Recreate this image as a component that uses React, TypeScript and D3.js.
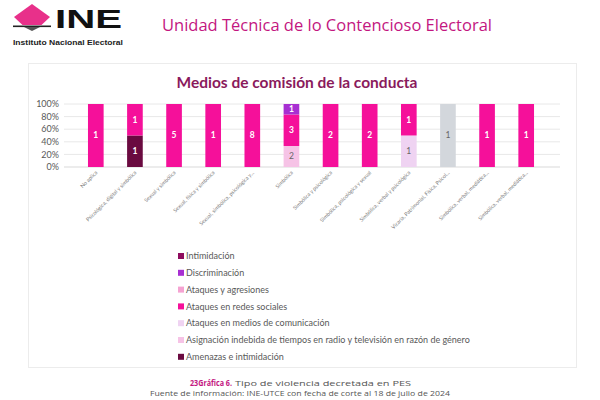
import React from "react";
import * as d3 from "d3";

const categories = [
  "No aplica",
  "Psicológica, digital y simbólica",
  "Sexual y simbólica",
  "Sexual, física y simbólica",
  "Sexual, simbólica, psicológica y...",
  "Simbólica",
  "Simbólica y psicológica",
  "Simbólica, psicológica y sexual",
  "Simbólica, verbal y psicológica",
  "Vicaria, Patrimonial, Física, Psicol...",
  "Simbólica, verbal, mediática...",
  "Simbólica, verbal, mediática...",
];

// series, bottom to top of the stack
const seriesNames = [
  "Amenazas e intimidación",
  "Asignación indebida de tiempos en radio y televisión en razón de género",
  "Ataques en medios de comunicación",
  "Ataques en redes sociales",
  "Ataques y agresiones",
  "Discriminación",
  "Intimidación",
  "Otro",
];
const seriesColors = [
  "#6a0a40",
  "#f6c3e6",
  "#efd3f2",
  "#f5109a",
  "#f5a3d2",
  "#a72fd2",
  "#8e0c5e",
  "#d3d7dc",
];
const seriesLabelDark = [false, true, true, false, true, false, false, true];
const inLegend = [true, true, true, true, true, true, true, false];

const amenazas = [0, 1, 0, 0, 0, 0, 0, 0, 0, 0, 0, 0];
const asignacion = [0, 0, 0, 0, 0, 2, 0, 0, 0, 0, 0, 0];
const medios = [0, 0, 0, 0, 0, 0, 0, 0, 1, 0, 0, 0];
const redes = [1, 1, 5, 1, 8, 3, 2, 2, 1, 0, 1, 1];
const agresiones = [0, 0, 0, 0, 0, 0, 0, 0, 0, 0, 0, 0];
const discriminacion = [0, 0, 0, 0, 0, 1, 0, 0, 0, 0, 0, 0];
const intimidacion = [0, 0, 0, 0, 0, 0, 0, 0, 0, 0, 0, 0];
const otro = [0, 0, 0, 0, 0, 0, 0, 0, 0, 1, 0, 0];
const seriesValues = [amenazas, asignacion, medios, redes, agresiones, discriminacion, intimidacion, otro];

const yTicks = [0, 0.2, 0.4, 0.6, 0.8, 1];

const FONT = "Lato, 'Open Sans', sans-serif";

export default function App() {
  const W = 600, H = 400;
  const keys = seriesNames.map((_, i) => "s" + i);
  const table = categories.map((c, ci) => {
    const row: any = { cat: ci };
    keys.forEach((k, si) => (row[k] = seriesValues[si][ci]));
    return row;
  });
  const stacked = d3.stack<any>().keys(keys).offset(d3.stackOffsetExpand)(table);

  const x = d3.scaleBand<number>().domain(categories.map((_, i) => i)).range([64.5, 557.5]).padding(0.6);
  const y = d3.scaleLinear().domain([0, 1]).range([167, 104]);
  const fmt = d3.format(".0%");

  const legendOrder = seriesNames.map((_, i) => i).filter((i) => inLegend[i]).reverse();

  return (
    <svg width={W} height={H} style={{ position: "absolute", left: 0, top: 0, background: "#fff" }}>
      {/* header logo */}
      <polygon points="32,4 50,17 41.5,25 22.5,25 14,17" fill="#e8308a" />
      <rect x={13} y={25.5} width={38} height={1.6} fill="#222" />
      <polygon points="24,27.1 40,27.1 32,31" fill="#555" />
      <text x={55} y={28} fontFamily="'Liberation Sans', Arial, sans-serif" fontWeight={900} fontSize={25}
        textLength={67} lengthAdjust="spacingAndGlyphs" fill="#111">INE</text>
      <text x={13} y={44.5} fontFamily="'Liberation Sans', Arial, sans-serif" fontWeight={700} fontSize={8}
        textLength={110} lengthAdjust="spacingAndGlyphs" fill="#222">Instituto Nacional Electoral</text>
      <text x={162} y={31} fontFamily="'Open Sans', sans-serif" fontSize={17} fill="#c3167f"
        textLength={330} lengthAdjust="spacingAndGlyphs">Unidad Técnica de lo Contencioso Electoral</text>

      {/* chart panel */}
      <rect x={28.5} y={63.5} width={548} height={304} fill="#fff" stroke="#ececec" strokeWidth={1} />
      <text x={297} y={88} textAnchor="middle" fontFamily={FONT} fontWeight={700} fontSize={15.5}
        fill="#8a1a5c">Medios de comisión de la conducta</text>

      {yTicks.map((t) => (
        <g key={t}>
          <line x1={64} x2={560} y1={y(t)} y2={y(t)} stroke={t === 0 ? "#d9d9d9" : "#e8e8e8"} strokeWidth={1} />
          <text x={59} y={y(t)} dy="0.35em" textAnchor="end" fontFamily={FONT} fontSize={9} fill="#595959">
            {fmt(t)}
          </text>
        </g>
      ))}

      {stacked.map((s, si) => (
        <g key={si}>
          {s.map((d, ci) => {
            const v = seriesValues[si][ci];
            if (!v) return null;
            const y0 = y(d[0]), y1 = y(d[1]);
            return (
              <g key={ci}>
                <rect x={x(ci)} y={y1} width={x.bandwidth()} height={y0 - y1} fill={seriesColors[si]} />
                <text x={(x(ci) as number) + x.bandwidth() / 2} y={(y0 + y1) / 2} dy="0.35em" textAnchor="middle"
                  fontFamily={FONT} fontWeight={seriesLabelDark[si] ? 400 : 700} fontSize={8.5}
                  fill={seriesLabelDark[si] ? "#666" : "#fff"}>{v}</text>
              </g>
            );
          })}
        </g>
      ))}

      {categories.map((c, ci) => {
        const cx = (x(ci) as number) + x.bandwidth() / 2 + 2;
        return (
          <text key={ci} transform={`translate(${cx},173) rotate(-45)`} textAnchor="end" fontFamily={FONT}
            fontSize={5.3} fill="#777">{c}</text>
        );
      })}

      {legendOrder.map((si, li) => {
        const ly = 256 + li * 16.8;
        return (
          <g key={si}>
            <rect x={178} y={ly - 3} width={6} height={6} fill={seriesColors[si]} />
            <text x={186} y={ly} dy="0.35em" fontFamily={FONT} fontSize={9} fill="#595959">{seriesNames[si]}</text>
          </g>
        );
      })}

      <text x={190} y={386} fontFamily="'Open Sans', sans-serif" fontSize={8} fontWeight={700}
        textLength={42} lengthAdjust="spacingAndGlyphs" fill="#c3167f">23Gráfica 6.</text>
      <text x={235} y={386} fontFamily="'Open Sans', sans-serif" fontSize={8} fill="#555"
        textLength={176} lengthAdjust="spacingAndGlyphs">Tipo de violencia decretada en PES</text>
      <text x={150} y={396} fontFamily="'Open Sans', sans-serif" fontSize={8} fill="#555"
        textLength={300} lengthAdjust="spacingAndGlyphs">Fuente de información: INE-UTCE con fecha de corte al 18 de julio de 2024</text>
    </svg>
  );
}
